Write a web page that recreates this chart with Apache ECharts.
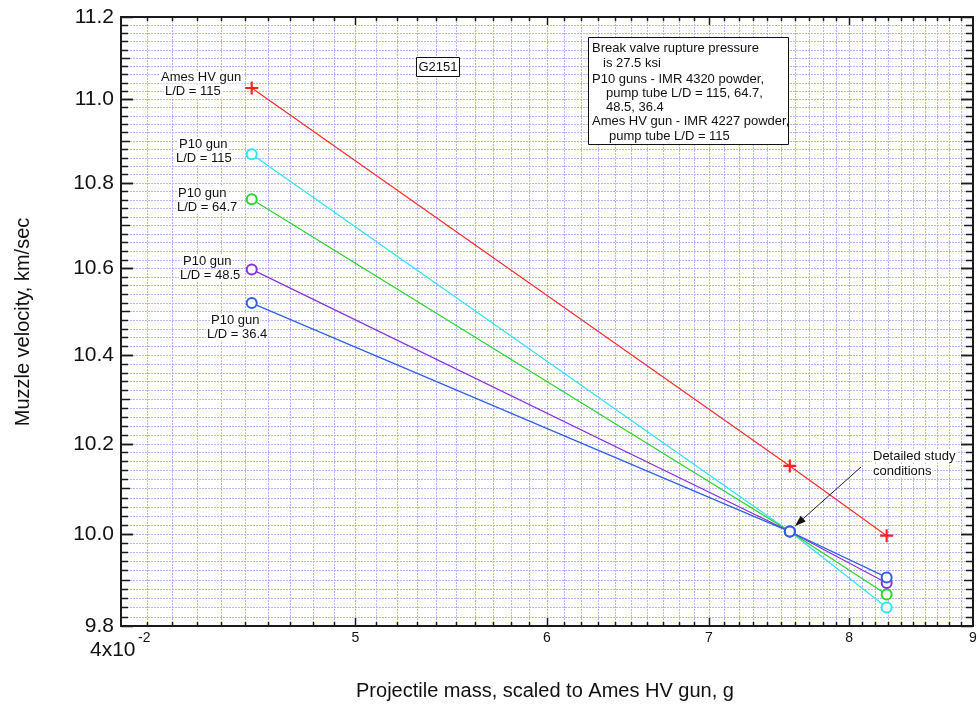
<!DOCTYPE html>
<html>
<head>
<meta charset="utf-8">
<script src="https://cdn.jsdelivr.net/npm/echarts@6/dist/echarts.min.js"></script>
<style>
  html, body { margin: 0; padding: 0; background: #fff; }
  #chart { width: 979px; height: 707px; }
</style>
</head>
<body>
<div id="chart"></div>
<script>
// Projectile mass, scaled to Ames HV gun, g
const MASS = [4.53, 7.56, 8.29];

// Muzzle velocity, km/sec
const AMES_HV_LD115 = [11.027, 10.150, 9.996];
const P10_LD115 = [10.868, 10.005, 9.840];
const P10_LD647 = [10.761, 10.005, 9.868];
const P10_LD485 = [10.597, 10.005, 9.893];
const P10_LD364 = [10.519, 10.005, 9.905];

// Axis ticks (both axes are logarithmic)
const X_TICKS = [4, 5, 6, 7, 8, 9];
const X_TICK_LABELS = ['4x10', '5', '6', '7', '8', '9'];
const X_TICK_EXPONENT = '-2';
const Y_TICKS = [9.8, 10.0, 10.2, 10.4, 10.6, 10.8, 11.0, 11.2];
const Y_TICK_LABELS = ['9.8', '10.0', '10.2', '10.4', '10.6', '10.8', '11.0', '11.2'];

const FONT = '"Liberation Sans", Arial, Helvetica, sans-serif';
const lg = Math.log10;
const X_MIN = lg(4), X_MAX = lg(9);
const Y_MIN = lg(9.8), Y_MAX = lg(11.2);

// minor grid positions: every 0.1 g and every 0.02 km/sec
const X_GRID = [];
for (let i = 41; i < 90; i++) X_GRID.push(i / 10);
const Y_GRID = [];
for (let i = 491; i < 560; i++) Y_GRID.push(i / 50);

const GRID_COLOR = '#b4b4ff';
const TICK_COLOR = '#1a1a1a';

function crisp(v) { return Math.round(v) + 0.5; }

// fine dotted grid line
function dots(x1, y1, x2, y2) {
  return {
    type: 'line',
    shape: { x1, y1, x2, y2 },
    style: { stroke: GRID_COLOR, lineWidth: 1, lineDash: [2, 1], fill: null, opacity: 1 }
  };
}
function tick(x1, y1, x2, y2) {
  return {
    type: 'line',
    shape: { x1, y1, x2, y2 },
    style: { stroke: TICK_COLOR, lineWidth: 1.5, fill: null }
  };
}

function renderXGrid(params, api) {
  const raw = api.value(2);
  const b = api.coord([api.value(0), Y_MIN]);
  const t = api.coord([api.value(0), Y_MAX]);
  const x = crisp(b[0]);
  const isInt = Math.abs(raw - Math.round(raw)) < 1e-6;
  const len = isInt ? 8 : 4;
  return {
    type: 'group',
    children: [
      dots(x, b[1], x, t[1]),
      tick(x, b[1], x, b[1] - len),
      tick(x, t[1], x, t[1] + len)
    ]
  };
}

function renderYGrid(params, api) {
  const raw = api.value(2);
  const l = api.coord([X_MIN, api.value(1)]);
  const r = api.coord([X_MAX, api.value(1)]);
  const y = crisp(l[1]);
  const k = Math.round(raw * 50);
  const len = (k % 10 === 0) ? 12 : (k % 5 === 0 ? 9 : 7);
  return {
    type: 'group',
    children: [
      dots(l[0], y, r[0], y),
      tick(l[0], y, l[0] + len, y),
      tick(r[0], y, r[0] - len, y)
    ]
  };
}

function renderYMajor(params, api) {
  const l = api.coord([X_MIN, api.value(1)]);
  const r = api.coord([X_MAX, api.value(1)]);
  const y = crisp(l[1]);
  return {
    type: 'group',
    children: [
      tick(l[0], y, l[0] + 12, y),
      tick(r[0], y, r[0] - 12, y),
      {
        type: 'text',
        style: {
          text: Y_TICK_LABELS[params.dataIndex], x: l[0] - 7, y: l[1] + 0.5,
          font: '21px ' + FONT, fill: '#111', align: 'right', verticalAlign: 'middle'
        }
      }
    ]
  };
}

function renderXLabels(params, api) {
  const p = api.coord([api.value(0), Y_MIN]);
  if (params.dataIndex === 0) {
    return {
      type: 'group',
      children: [
        { type: 'text', style: { text: X_TICK_LABELS[0], x: p[0] + 14.5, y: p[1] + 24,
          font: '21px ' + FONT, fill: '#111', align: 'right', verticalAlign: 'middle' } },
        { type: 'text', style: { text: X_TICK_EXPONENT, x: p[0] + 17, y: p[1] + 12,
          font: '14px ' + FONT, fill: '#111', align: 'left', verticalAlign: 'middle' } }
      ]
    };
  }
  return {
    type: 'text',
    style: {
      text: X_TICK_LABELS[params.dataIndex], x: p[0], y: p[1] + 12,
      font: '14px ' + FONT, fill: '#111', align: 'center', verticalAlign: 'middle'
    }
  };
}

function toPoints(vals) {
  return MASS.map((m, i) => [lg(m), lg(vals[i])]);
}

function p10Series(name, vals, color) {
  return {
    name, type: 'line', data: toPoints(vals), z: 3,
    symbol: 'emptyCircle', symbolSize: 10,
    lineStyle: { color, width: 1.2 },
    itemStyle: { color, borderColor: color, borderWidth: 2 },
    emphasis: { disabled: true }, silent: true
  };
}

const chart = echarts.init(document.getElementById('chart'), null, { renderer: 'canvas' });

// text helpers for the annotations
function txt(text, x, y, size, extra) {
  return {
    type: 'text', z: 20, silent: true,
    style: Object.assign({ text, x, y, font: size + 'px ' + FONT, fill: '#111',
      align: 'left', verticalAlign: 'middle' }, extra || {})
  };
}
function labelTxt(text, x, y) {
  return txt(text, x, y, 13, { backgroundColor: '#fff', padding: [0, 1] });
}

// arrow pointing at the detailed study conditions
const ARROW_FROM = [861, 467], ARROW_TIP = [795, 526];
const dx = ARROW_TIP[0] - ARROW_FROM[0], dy = ARROW_TIP[1] - ARROW_FROM[1];
const dl = Math.hypot(dx, dy), ux = dx / dl, uy = dy / dl;
const HEAD = 11, HALF = 3.8;
const base = [ARROW_TIP[0] - ux * HEAD, ARROW_TIP[1] - uy * HEAD];

const graphics = [
  // identification box
  { type: 'rect', z: 19, silent: true, shape: { x: 416.5, y: 57.5, width: 43, height: 19 },
    style: { fill: '#fff', stroke: '#111', lineWidth: 1 } },
  txt('G2151', 438, 67, 13, { align: 'center' }),
  // conditions box
  { type: 'rect', z: 19, silent: true, shape: { x: 588.5, y: 37.5, width: 200, height: 107 },
    style: { fill: '#fff', stroke: '#111', lineWidth: 1 } },
  txt('Break valve rupture pressure', 592, 48.5, 13),
  txt('is 27.5 ksi', 603, 63.5, 13),
  txt('P10 guns - IMR 4320 powder,', 592, 79.5, 13),
  txt('pump tube L/D = 115, 64.7,', 606, 93.5, 13),
  txt('48.5, 36.4', 606, 107.5, 13),
  txt('Ames HV gun - IMR 4227 powder,', 592, 121.5, 13),
  txt('pump tube L/D = 115', 609, 136, 13),
  // series labels
  labelTxt('Ames HV gun', 160, 77),
  labelTxt('L/D = 115', 164, 91),
  labelTxt('P10 gun', 178, 144),
  labelTxt('L/D = 115', 175, 158),
  labelTxt('P10 gun', 177, 193),
  labelTxt('L/D = 64.7', 176, 207),
  labelTxt('P10 gun', 182, 261),
  labelTxt('L/D = 48.5', 179, 275.5),
  labelTxt('P10 gun', 210, 320),
  labelTxt('L/D = 36.4', 206, 334),
  labelTxt('Detailed study', 872, 456),
  labelTxt('conditions', 872, 471),
  // arrow
  { type: 'line', z: 20, silent: true,
    shape: { x1: ARROW_FROM[0], y1: ARROW_FROM[1], x2: base[0], y2: base[1] },
    style: { stroke: '#222', lineWidth: 1 } },
  { type: 'polygon', z: 20, silent: true,
    shape: { points: [ARROW_TIP,
      [base[0] - uy * HALF, base[1] + ux * HALF],
      [base[0] + uy * HALF, base[1] - ux * HALF]] },
    style: { fill: '#111' } },
  // axis titles
  txt('Projectile mass, scaled to Ames HV gun, g', 545, 691, 20, { align: 'center' }),
  { type: 'text', z: 20, silent: true, x: 23, y: 322, rotation: Math.PI / 2,
    style: { text: 'Muzzle velocity, km/sec', x: 0, y: 0, font: '20px ' + FONT,
      fill: '#111', align: 'center', verticalAlign: 'middle' } }
];

chart.setOption({
  animation: false,
  backgroundColor: '#fff',
  grid: {
    left: 121, top: 17, right: 6, bottom: 81,
    show: true, backgroundColor: '#fff', borderColor: '#1a1a1a', borderWidth: 2
  },
  xAxis: { type: 'value', min: X_MIN, max: X_MAX, show: false },
  yAxis: { type: 'value', min: Y_MIN, max: Y_MAX, show: false },
  series: [
    { type: 'custom', name: 'x grid', z: 1, silent: true, clip: false,
      data: X_GRID.map(v => [lg(v), Y_MIN, v]), renderItem: renderXGrid },
    { type: 'custom', name: 'y grid', z: 1, silent: true, clip: false,
      data: Y_GRID.map(v => [X_MIN, lg(v), v]), renderItem: renderYGrid },
    { type: 'custom', name: 'y ticks', z: 4, silent: true, clip: false,
      data: Y_TICKS.map(v => [X_MIN, lg(v), v]), renderItem: renderYMajor },
    { type: 'custom', name: 'x labels', z: 4, silent: true, clip: false,
      data: X_TICKS.map(v => [lg(v), Y_MIN, v]), renderItem: renderXLabels },
    {
      name: 'Ames HV gun, L/D = 115', type: 'line', data: toPoints(AMES_HV_LD115), z: 3,
      symbol: 'path://M5,0H7V5H12V7H7V12H5V7H0V5H5Z', symbolSize: 13,
      lineStyle: { color: '#ff2b2b', width: 1.2 },
      itemStyle: { color: '#ff2020' },
      emphasis: { disabled: true }, silent: true
    },
    p10Series('P10 gun, L/D = 115', P10_LD115, '#2ee4f4'),
    p10Series('P10 gun, L/D = 64.7', P10_LD647, '#26d626'),
    p10Series('P10 gun, L/D = 48.5', P10_LD485, '#8a2fdc'),
    p10Series('P10 gun, L/D = 36.4', P10_LD364, '#2f5ee8')
  ],
  graphic: graphics
});
</script>
</body>
</html>
